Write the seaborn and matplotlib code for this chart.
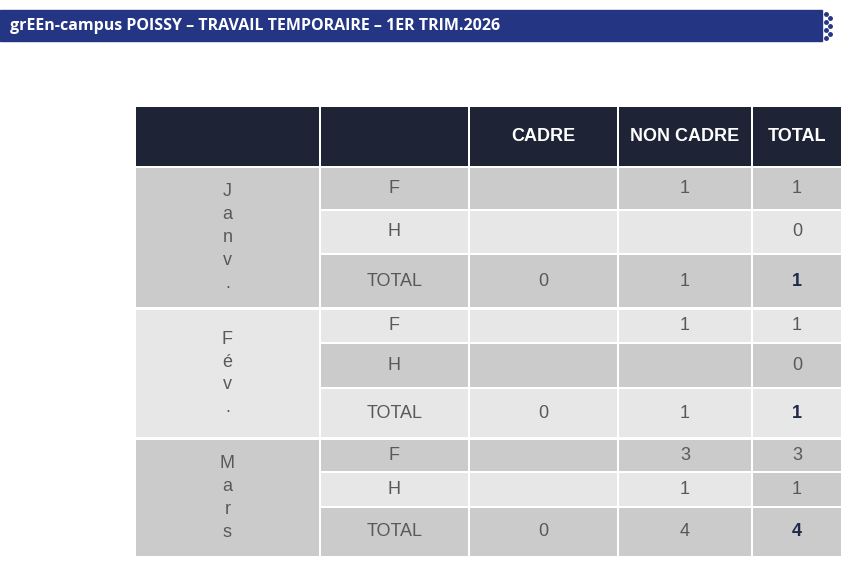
import matplotlib
matplotlib.use("Agg")
import matplotlib.pyplot as plt
from matplotlib.patches import Rectangle
import seaborn as sns

sns.set_theme(style="white")
plt.rcParams["font.family"] = ["Liberation Sans", "DejaVu Sans"]

title = "grEEn-campus POISSY – TRAVAIL TEMPORAIRE – 1ER TRIM.2026"
columns = ["", "", "CADRE", "NON CADRE", "TOTAL"]
months = ["Janv.", "Fév.", "Mars"]
sexes = ["F", "H", "TOTAL"]
cadre = [["", "", "0"], ["", "", "0"], ["", "", "0"]]
non_cadre = [["1", "", "1"], ["1", "", "1"], ["3", "1", "4"]]
total = [["1", "0", "1"], ["1", "0", "1"], ["3", "1", "4"]]

# layout (pixel coordinates)
col_x = [135, 320, 469, 618, 752, 842]
header_y = (107, 166)
row_y = [[(168, 209), (211, 253), (255, 307)],
         [(310, 342), (344, 387), (389, 437)],
         [(440, 471), (473, 506), (508, 556)]]
DARK, LIGHT = "#cbcbcb", "#e7e7e7"
row_shade = [[DARK, LIGHT, DARK], [LIGHT, DARK, LIGHT], [DARK, LIGHT, DARK]]
month_shade = [DARK, LIGHT, DARK]
TXT = "#595959"
NAVY = "#1e2336"

fig = plt.figure(figsize=(8.57, 5.71), dpi=100)
ax = fig.add_axes([0, 0, 1, 1])
ax.set_xlim(0, 857)
ax.set_ylim(571, 0)
ax.axis("off")

# title bar
ax.add_patch(Rectangle((0, 10), 822, 31, color="#243584"))
ax.text(10, 26, title, color="white", fontsize=11.5, fontweight="bold",
        family=["Open Sans", "DejaVu Sans"], va="center", ha="left")
for dx, dy in [(0, 0), (4, 4), (0, 8), (4, 12), (0, 16), (4, 20), (0, 24)]:
    ax.plot(826 + dx, 14 + dy, "o", color="#243584", ms=2.5)


def cell(x0, x1, y0, y1, color):
    ax.add_patch(Rectangle((x0 + 1, y0), x1 - x0 - 2, y1 - y0, color=color, lw=0))


# header
for i in range(5):
    cell(col_x[i], col_x[i + 1], *header_y, NAVY)
    if columns[i]:
        ax.text((col_x[i] + col_x[i + 1]) / 2, sum(header_y) / 2, columns[i],
                color="white", fontsize=13, fontweight="bold", ha="center", va="center")

for m, month in enumerate(months):
    y0, y1 = row_y[m][0][0], row_y[m][-1][1]
    cell(col_x[0], col_x[1], y0, y1, month_shade[m])
    ax.text((col_x[0] + col_x[1]) / 2, (y0 + y1) / 2, "\n".join(month), color=TXT,
            fontsize=13, ha="center", va="center", linespacing=1.45)
    for r, sex in enumerate(sexes):
        ya, yb = row_y[m][r]
        vals = [sex, cadre[m][r], non_cadre[m][r], total[m][r]]
        for c, v in enumerate(vals):
            shade = row_shade[m][r]
            if m == 2 and r == 1 and c == 3:
                shade = DARK
            cell(col_x[c + 1], col_x[c + 2], ya, yb, shade)
            if v:
                bold = sex == "TOTAL" and c == 3
                ax.text((col_x[c + 1] + col_x[c + 2]) / 2, (ya + yb) / 2, v,
                        color="#1e2a4a" if bold else TXT, fontsize=13,
                        fontweight="bold" if bold else "normal", ha="center", va="center")

fig.savefig("out.png", dpi=100)
